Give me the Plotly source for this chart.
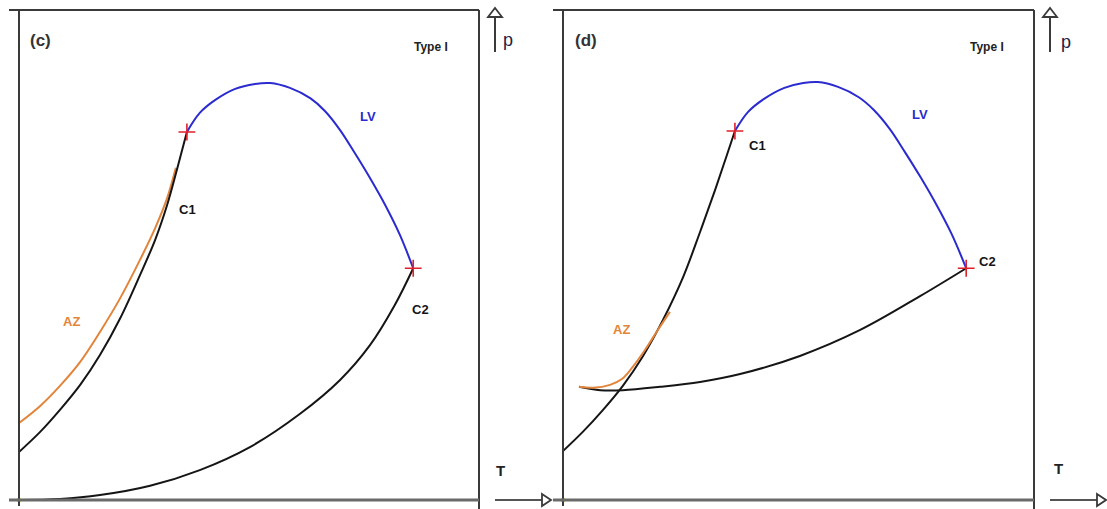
import plotly.graph_objects as go

W, H = 1107, 509

# ---- panel (c): temperature / pressure values of each branch ----
c_lv_T = [36.5, 39.3, 42.6, 47.0, 51.3, 54.6, 58.9, 63.3, 66.5, 69.8, 73.0, 76.3, 79.6, 82.8, 85.7]
c_lv_p = [75.1, 79.0, 81.6, 83.9, 84.9, 85.1, 84.1, 82.0, 79.4, 75.5, 70.8, 65.7, 60.2, 54.1, 47.3]

c_c1_T = [0, 4.6, 8.9, 13.3, 17.6, 22.0, 26.3, 29.6, 32.2, 34.3, 36.5]
c_c1_p = [9.8, 13.9, 18.4, 23.5, 29.6, 37.1, 45.9, 53.1, 60.2, 67.3, 75.1]

c_az_T = [0, 4.6, 8.9, 13.3, 17.6, 22.0, 26.3, 29.6, 32.2, 34.1]
c_az_p = [15.7, 19.2, 23.3, 28.2, 34.3, 41.2, 49.0, 55.5, 61.6, 67.8]

c_c2_T = [0, 8.9, 17.6, 28.5, 39.3, 50.2, 61.1, 69.8, 76.3, 81.7, 85.7]
c_c2_p = [0, 0.2, 1.0, 2.9, 6.1, 10.8, 17.6, 24.5, 31.6, 39.8, 47.3]

c_crit_T = [36.5, 85.7]
c_crit_p = [75.1, 47.3]

# ---- panel (d) ----
d_lv_T = [36.5, 39.3, 42.6, 47.0, 51.0, 54.1, 58.4, 62.8, 66.0, 69.4, 72.6, 75.9, 79.2, 82.5, 85.6]
d_lv_p = [75.3, 79.2, 81.8, 84.1, 85.1, 85.3, 84.3, 82.2, 79.6, 75.7, 71.0, 65.9, 60.4, 54.3, 47.3]

d_c1_T = [0, 4.2, 8.5, 12.7, 17.0, 21.2, 25.5, 29.1, 32.3, 34.8, 36.5]
d_c1_p = [10.0, 13.9, 18.4, 23.3, 29.4, 36.7, 45.5, 54.7, 63.3, 70.4, 75.3]

d_c2_T = [3.4, 7.9, 12.7, 20.6, 29.1, 37.6, 50.3, 63.1, 75.8, 85.6]
d_c2_p = [23.1, 22.4, 22.4, 23.1, 24.1, 25.7, 29.4, 34.7, 41.6, 47.3]

d_az_T = [3.4, 6.4, 10.0, 12.5, 14.6, 17.4, 20.0, 22.7]
d_az_p = [23.1, 22.9, 23.5, 24.7, 26.9, 30.6, 34.5, 38.4]

d_crit_T = [36.5, 85.6]
d_crit_p = [75.3, 47.3]

BLUE = "#2b2bd0"
ORANGE = "#e2843a"
BLACK = "#151515"
RED = "#e0202a"
FONT = "Liberation Sans"

fig = go.Figure()


def curve(T, p, color, ax):
    fig.add_trace(go.Scatter(x=T, y=p, mode="lines",
                             line=dict(color=color, width=2, shape="spline", smoothing=1.0),
                             xaxis="x" + ax, yaxis="y" + ax, hoverinfo="skip"))


def crit(T, p, ax):
    fig.add_trace(go.Scatter(x=T, y=p, mode="markers",
                             marker=dict(symbol="cross-thin", size=12, line=dict(color=RED, width=1.6)),
                             xaxis="x" + ax, yaxis="y" + ax, cliponaxis=False, hoverinfo="skip"))


def origin(ax):
    fig.add_trace(go.Scatter(x=[0], y=[0], mode="markers", marker=dict(color="#d8e860", size=5),
                             xaxis="x" + ax, yaxis="y" + ax, cliponaxis=False, hoverinfo="skip"))


# panel (c)
curve(c_az_T, c_az_p, ORANGE, "")
curve(c_c1_T, c_c1_p, BLACK, "")
curve(c_c2_T, c_c2_p, BLACK, "")
curve(c_lv_T, c_lv_p, BLUE, "")
crit(c_crit_T, c_crit_p, "")
origin("")

# panel (d)
curve(d_c1_T, d_c1_p, BLACK, "2")
curve(d_c2_T, d_c2_p, BLACK, "2")
curve(d_az_T, d_az_p, ORANGE, "2")
curve(d_lv_T, d_lv_p, BLUE, "2")
crit(d_crit_T, d_crit_p, "2")
origin("2")


def px(x):
    return x / W


def py(y):
    return 1 - y / H


ax_common = dict(visible=False, range=[0, 100], fixedrange=True)
fig.update_layout(
    width=W, height=H, margin=dict(l=0, r=0, t=0, b=0),
    paper_bgcolor="white", plot_bgcolor="rgba(0,0,0,0)", showlegend=False,
    xaxis=dict(domain=[px(19), px(479)], **ax_common),
    yaxis=dict(domain=[py(500), py(10)], **ax_common),
    xaxis2=dict(domain=[px(563), px(1034)], **ax_common),
    yaxis2=dict(domain=[py(500), py(10)], anchor="x2", **ax_common),
)

shapes = []


def seg(x0, y0, x1, y1, color="#3a3a3a", width=2):
    shapes.append(dict(type="line", xref="paper", yref="paper", x0=px(x0), y0=py(y0), x1=px(x1), y1=py(y1),
                       line=dict(color=color, width=width)))


def tri(points):
    path = "M " + " L ".join(f"{px(a)},{py(b)}" for a, b in points) + " Z"
    shapes.append(dict(type="path", xref="paper", yref="paper", path=path,
                       fillcolor="white", line=dict(color="#3a3a3a", width=1.8)))


# frame of each panel, with the bottom (T) line drawn heavier
for left, right in [(19, 479), (563, 1034)]:
    seg(left - 10, 10, right, 10)
    seg(left, 10, left, 506)
    seg(right, 10, right, 509)
    seg(left - 10, 500, right, 500, color="#6a6a6a", width=3)

    # p axis arrow (above, outside right edge)
    ax_x = right + 16
    seg(ax_x, 52, ax_x, 17)
    tri([(ax_x - 7, 17), (ax_x, 8), (ax_x + 7, 17)])

    # T axis arrow (bottom right)
    seg(right + 16, 500, right + 63, 500, color="#555555", width=2)
    tri([(right + 63, 494), (right + 72, 500), (right + 63, 506)])

fig.update_layout(shapes=shapes)

ann = []


def text(s, x, y, color="#222222", size=12, xref="paper", yref="paper", bold=True):
    ann.append(dict(text=f"<b>{s}</b>" if bold else s, x=x, y=y, xref=xref, yref=yref, showarrow=False,
                    font=dict(family=FONT, size=size, color=color), xanchor="center", yanchor="middle"))


# panel titles and axis letters
text("(c)", px(40), py(40), color="#333333", size=17)
text("(d)", px(586), py(40), color="#333333", size=17)
text("Type I", px(431), py(47), color="#222222", size=12)
text("Type I", px(987), py(47), color="#222222", size=12)
text("p", px(508), py(40), color="#222244", size=18, bold=False)
text("p", px(1066), py(42), color="#222244", size=18, bold=False)
text("T", px(500), py(470), color="#222222", size=15)
text("T", px(1058), py(468), color="#222222", size=15)

# curve labels placed in data units
text("C1", 36.7, 59.2, BLACK, 13, "x", "y")
text("C2", 87.2, 38.8, BLACK, 13, "x", "y")
text("LV", 75.9, 78.2, BLUE, 13, "x", "y")
text("AZ", 11.5, 36.5, ORANGE, 13, "x", "y")

text("C1", 41.2, 72.4, BLACK, 13, "x2", "y2")
text("C2", 90.2, 48.6, BLACK, 13, "x2", "y2")
text("LV", 75.8, 78.6, BLUE, 13, "x2", "y2")
text("AZ", 12.5, 34.7, ORANGE, 13, "x2", "y2")

fig.update_layout(annotations=ann)

fig.write_html("out.html")
